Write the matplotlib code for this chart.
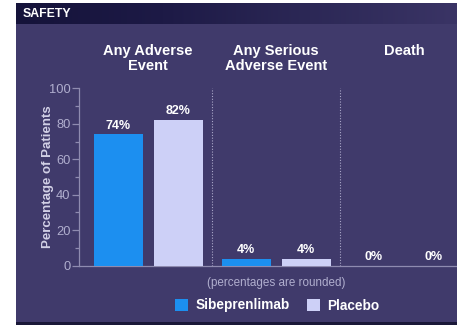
import numpy as np
import matplotlib
matplotlib.use("Agg")
import matplotlib.pyplot as plt
from matplotlib.patches import Rectangle
from matplotlib.colors import LinearSegmentedColormap

# ---- data ----
groups = ["Any Adverse\nEvent", "Any Serious\nAdverse Event", "Death"]
series_names = ["Sibeprenlimab", "Placebo"]
sibeprenlimab = [74, 4, 0]
placebo = [82, 4, 0]
y_ticks = [0, 20, 40, 60, 80, 100]

# ---- style ----
plt.rcParams["font.family"] = ["Liberation Sans", "DejaVu Sans"]
BG = "#403a6b"
HEADER = "#15133a"
BLUE = "#1c8ff0"
LAVENDER = "#cdd0f7"
TICK_GREY = "#b0aece"
LINE_GREY = "#8f8bb0"

W, H = 457, 325
fig = plt.figure(figsize=(W / 100, H / 100), dpi=100, facecolor="white")

# background panel in pixel units
bg = fig.add_axes([0, 0, 1, 1])
bg.add_patch(Rectangle((16, 3), W - 16, 319, color=BG, lw=0))
# header band fading from navy on the left towards purple on the right
grad = np.linspace(0, 1, 256)[None, :]
hdr_cmap = LinearSegmentedColormap.from_list(
    "hdr", [HEADER, "#1d1a46", "#2c2856", "#3a3465"])
bg.imshow(grad, cmap=hdr_cmap, extent=(16, W, 24, 3), aspect="auto", zorder=1)
bg.add_patch(Rectangle((16, 322), W - 16, 3, color="#1a1838", lw=0, zorder=1))
bg.set_xlim(0, W)
bg.set_ylim(H, 0)
bg.axis("off")
bg.text(23, 14, "SAFETY", color="white", fontsize=8.8, fontweight="bold",
        va="center", ha="left", zorder=2)

# ---- main axes ----
left_px, right_px, top_px, bottom_px = 79, 457, 88.3, 265.7
ax = fig.add_axes([left_px / W, (H - bottom_px) / H,
                   (right_px - left_px) / W, (bottom_px - top_px) / H])
ax.set_facecolor("none")

group_px = 128.0
x0 = (148 - left_px) / group_px
ax.set_xlim(-x0, -x0 + (right_px - left_px) / group_px)
ax.set_ylim(0, 100)

x = np.arange(len(groups))
width = 49 / group_px
off = 30 / group_px

bars_a = ax.bar(x - off, sibeprenlimab, width, color=BLUE, label=series_names[0], zorder=3)
bars_b = ax.bar(x + off, placebo, width, color=LAVENDER, label=series_names[1], zorder=3)

for bars, vals in ((bars_a, sibeprenlimab), (bars_b, placebo)):
    for b, v in zip(bars, vals):
        ax.annotate(f"{v}%", (b.get_x() + b.get_width() / 2, v),
                    xytext=(0, 2), textcoords="offset points",
                    ha="center", va="bottom", color="white",
                    fontsize=9, fontweight="bold", zorder=4)

# dotted separators between groups
for sep in (0.5, 1.5):
    ax.axvline(sep, ymin=0, ymax=1, color="#aaa7c8", lw=0.8,
               linestyle=(0, (1, 1.5)), zorder=2)

# group headings
for gx, g in zip(x, groups):
    ax.text(gx, 125.2, g, ha="center", va="top", color="white",
            fontsize=10.5, fontweight="bold", linespacing=1.16, clip_on=False)

# spines and ticks
for s in ("top", "right"):
    ax.spines[s].set_visible(False)
for s in ("left", "bottom"):
    ax.spines[s].set_color(LINE_GREY)
    ax.spines[s].set_linewidth(0.9)
ax.set_xticks([])
ax.set_yticks(y_ticks)
ax.set_yticks([10, 30, 50, 70, 90], minor=True)
ax.tick_params(axis="y", which="major", length=5, width=0.9, color=LINE_GREY,
               labelcolor=TICK_GREY, labelsize=9.3, pad=1)
ax.tick_params(axis="y", which="minor", length=3, width=0.9, color=LINE_GREY)

ax.set_ylabel("Percentage of Patients", color="#d2d0e6", fontsize=9.5,
              fontweight="bold")
ax.yaxis.set_label_coords((54 - left_px) / (right_px - left_px), 0.5)

fig.text(276 / W, 1 - 283 / H, "(percentages are rounded)", ha="center",
         va="center", color=TICK_GREY, fontsize=8.4)

leg = fig.legend(handles=[bars_a, bars_b], labels=series_names, ncol=2,
                 loc="center", bbox_to_anchor=(277 / W, 1 - 305.5 / H),
                 frameon=False, handlelength=1.0, handleheight=0.95,
                 handletextpad=0.5, columnspacing=1.25, fontsize=9.8,
                 borderpad=0, borderaxespad=0)
for t in leg.get_texts():
    t.set_color("white")
    t.set_fontweight("bold")

fig.savefig("out.png", dpi=100, facecolor="white")
